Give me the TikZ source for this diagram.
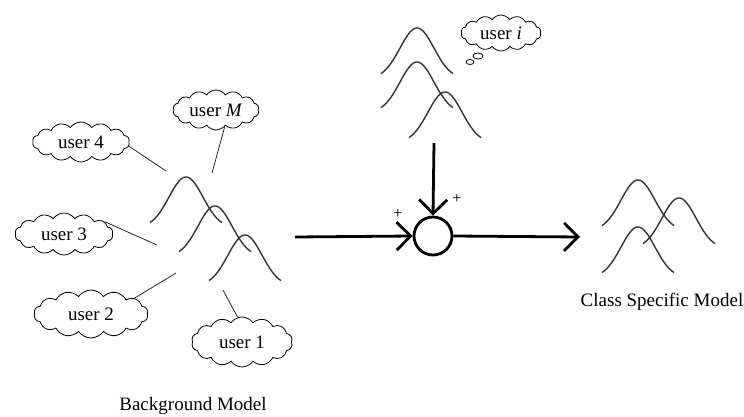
\documentclass[tikz,border=0pt]{standalone}
\usepackage{fontspec}
\setmainfont{Liberation Serif}
\usetikzlibrary{shapes.symbols,arrows.meta}
\tikzset{
  bellline/.style={line width=1.4pt, draw=black!80},
  bell/.pic={\draw[bellline] plot[domain=-36:36,samples=50,smooth] (\x,{51*(1-exp(-(\x*\x)/(2*17*17)))});},
  usercloud/.style={cloud, cloud puffs=14, cloud puff arc=110, cloud ignores aspect, draw, line width=0.8pt, inner sep=0pt, font=\fontsize{19}{22}\selectfont},
  leader/.style={line width=0.8pt, draw=black!85},
  flow/.style={line width=2.8pt, -{Straight Barb[length=14pt,width=28pt,line width=2.8pt]}},
  label/.style={font=\fontsize{19}{22}\selectfont},
  sumsign/.style={font=\fontsize{16}{18}\selectfont}
}
\begin{document}
\begin{tikzpicture}[x=1pt,y=-1pt]
\useasboundingbox (0,0) rectangle (744,417);
% background model bells
\pic at (186,177) {bell};
\pic at (215,206) {bell};
\pic at (245,235) {bell};
% user clouds
\node[usercloud, minimum width=97pt, minimum height=40pt] (u4) at (81,142) {user 4};
\node[usercloud, minimum width=86pt, minimum height=40pt] (uM) at (216,110) {user \textit{M}};
\node[usercloud, minimum width=98pt, minimum height=42pt] (u3) at (64,234) {user 3};
\node[usercloud, minimum width=114pt, minimum height=48pt] (u2) at (91,314) {user 2};
\node[usercloud, minimum width=101pt, minimum height=50pt] (u1) at (242,342) {user 1};
\coordinate (c4) at (166,171);
\coordinate (cM) at (212,173);
\coordinate (c3) at (157,245);
\coordinate (c2) at (176,273);
\coordinate (c1) at (223,290);
\draw[leader] (u4.-5) -- (c4);
\draw[leader] (uM.-62) -- (cM);
\draw[leader] (u3.17) -- (c3);
\draw[leader] (u2.20) -- (c2);
\draw[leader] (u1.100) -- (c1);
% user i bells
\pic at (417,28) {bell};
\pic at (417,62) {bell};
\pic at (445,92) {bell};
\node[usercloud, minimum width=80pt, minimum height=36pt] (ui) at (501,33) {user \textit{i}};
\draw[line width=0.8pt] (478,56) ellipse (5pt and 3pt);
\draw[line width=0.8pt] (470,62) ellipse (4pt and 2.5pt);
% summing junction
\node[circle, draw, line width=2.8pt, minimum size=38pt, inner sep=0pt] (sum) at (433,236) {};
\coordinate (bgout) at (295,237);
\coordinate (topin) at (434,143);
\coordinate (out) at (580,237);
\draw[flow] (bgout) -- (sum.west);
\draw[flow] (topin) -- (sum.north);
\draw[flow] (sum.east) -- (out);
\node[sumsign] (p1) at (398,214) {+};
\node[sumsign] (p2) at (457,199) {+};
% class specific bells
\pic at (638,180) {bell};
\pic at (679,198) {bell};
\pic at (638,227) {bell};
\node[label] (csm) at (662,302) {Class Specific Model};
\node[label] (bgm) at (193,406) {Background Model};
\end{tikzpicture}
\end{document}
